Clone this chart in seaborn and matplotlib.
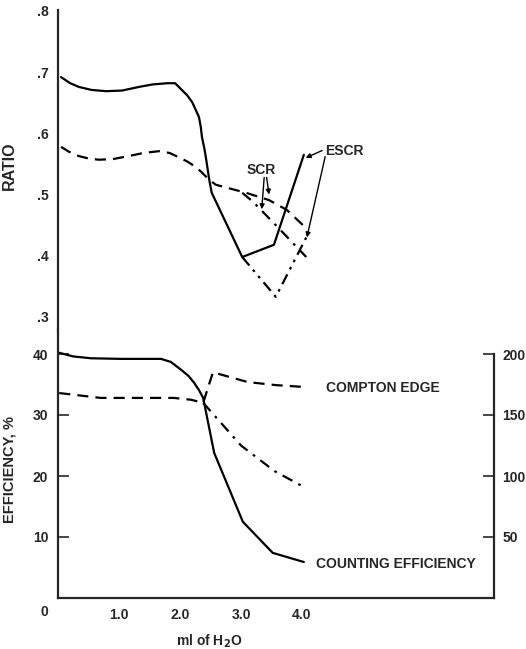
import matplotlib
matplotlib.use("Agg")
import matplotlib.pyplot as plt
import seaborn as sns
import pandas as pd

# --- upper panel: ratios vs. water volume ---
escr_x = [0.05, 0.20, 0.34, 0.55, 0.79, 1.05, 1.33, 1.55, 1.79, 1.92, 2.03, 2.12, 2.20, 2.26, 2.31,
          2.34, 2.36, 2.40, 2.43, 2.48, 2.52, 3.02, 3.54, 4.03]
escr_y = [0.692, 0.682, 0.676, 0.671, 0.669, 0.670, 0.676, 0.680, 0.682, 0.682, 0.671, 0.662, 0.651,
          0.638, 0.627, 0.611, 0.594, 0.575, 0.557, 0.524, 0.503, 0.398, 0.418, 0.565]

escr_alt_x = [3.02, 3.57, 4.07]
escr_alt_y = [0.398, 0.333, 0.430]

scr_x = [0.05, 0.18, 0.34, 0.50, 0.67, 0.90, 1.16, 1.40, 1.66, 1.83, 1.98, 2.12, 2.26, 2.35, 2.43,
         2.52, 2.59, 3.08, 3.46, 3.75, 4.07]
scr_y = [0.578, 0.570, 0.563, 0.559, 0.557, 0.558, 0.563, 0.568, 0.571, 0.568, 0.561, 0.554, 0.545,
         0.537, 0.529, 0.521, 0.516, 0.503, 0.491, 0.475, 0.445]

scr_alt_x = [3.02, 3.20, 3.60, 4.07]
scr_alt_y = [0.503, 0.488, 0.447, 0.398]

# --- lower panel: counting efficiency (%) and Compton edge (channel) ---
eff_x = [0.02, 0.25, 0.54, 1.03, 1.69, 1.85, 2.02, 2.14, 2.23, 2.31, 2.38, 2.56, 3.03, 3.52, 4.03]
eff_y = [40.2, 39.6, 39.3, 39.2, 39.2, 38.7, 37.4, 36.4, 35.3, 34.1, 32.8, 23.8, 12.5, 7.4, 5.9]

edge_x = [0.02, 0.70, 1.90, 2.18, 2.38, 2.54, 3.11, 3.57, 4.03]
edge_y = [168, 164, 164, 162.5, 160, 185, 177, 174.5, 173]

edge_alt_x = [2.38, 3.00, 3.55, 4.03]
edge_alt_y = [160, 125, 104, 91]

x_ticks = [1, 2, 3, 4]
x_tick_labels = ["1.0", "2.0", "3.0", "4.0"]
ratio_ticks = [0.3, 0.4, 0.5, 0.6, 0.7, 0.8]
ratio_tick_labels = [".3", ".4", ".5", ".6", ".7", ".8"]
eff_ticks = [10, 20, 30, 40]
edge_ticks = [50, 100, 150, 200]

sns.set_style("white")
plt.rcParams["font.family"] = ["Liberation Sans", "DejaVu Sans"]
plt.rcParams["font.weight"] = "bold"
plt.rcParams["axes.linewidth"] = 1.6

W, H = 526, 649
fig = plt.figure(figsize=(W / 100, H / 100), dpi=100)


def frac(left, top, right, bottom):
    return [left / W, 1 - bottom / H, (right - left) / W, (bottom - top) / H]


ax_top = fig.add_axes(frac(58, 10, 494, 331))
ax_bot = fig.add_axes(frac(58, 330, 494, 598))
ax_right = ax_bot.twinx()

XMAX = (494 - 58) / 61.0
lw = 1.6
dash = (0, (5, 3.2))
dashdot = (0, (5, 3, 1.2, 3))
dashdotdot = (0, (5, 2.5, 1.2, 2.5, 1.2, 2.5))


def draw(ax, x, y, ls):
    df = pd.DataFrame({"x": x, "y": y})
    sns.lineplot(data=df, x="x", y="y", ax=ax, color="black", lw=lw,
                 linestyle=ls, sort=False, estimator=None)


# upper panel
draw(ax_top, escr_x, escr_y, "-")
draw(ax_top, escr_alt_x, escr_alt_y, dashdotdot)
draw(ax_top, scr_x, scr_y, dash)
draw(ax_top, scr_alt_x, scr_alt_y, dashdot)

ax_top.set_xlim(0, XMAX)
ax_top.set_ylim(0.8 - 320 / 612, 0.8 + 1 / 612)
ax_top.set_yticks(ratio_ticks)
ax_top.set_yticklabels(ratio_tick_labels)
ax_top.set_xticks([])
for s in ["top", "right", "bottom"]:
    ax_top.spines[s].set_visible(False)
ax_top.spines["left"].set_capstyle("projecting")
ax_top.tick_params(axis="y", direction="in", length=8, width=1.2, pad=7, labelsize=10)
ax_top.set_xlabel("")
ax_top.set_ylabel("RATIO", fontsize=11.5, fontweight="bold")
ax_top.yaxis.set_label_coords(-0.095, 0.516)

arrow = dict(arrowstyle="-|>", color="black", lw=1.0, mutation_scale=7, shrinkA=0, shrinkB=0)
ax_top.text(3.33, 0.540, "SCR", ha="center", va="center", fontsize=10, fontweight="bold")
ax_top.annotate("", xy=(3.46, 0.500), xytext=(3.42, 0.528), arrowprops=arrow)
ax_top.annotate("", xy=(3.34, 0.476), xytext=(3.38, 0.528), arrowprops=arrow)
ax_top.text(4.38, 0.571, "ESCR", ha="left", va="center", fontsize=10, fontweight="bold")
ax_top.annotate("", xy=(4.06, 0.560), xytext=(4.33, 0.572), arrowprops=arrow)
ax_top.annotate("", xy=(4.08, 0.430), xytext=(4.38, 0.562), arrowprops=arrow)

# lower panel
draw(ax_bot, eff_x, eff_y, "-")
draw(ax_right, edge_x, edge_y, dash)
draw(ax_right, edge_alt_x, edge_alt_y, dashdot)

ymax = (598 - 330) / 6.1
ax_bot.set_xlim(0, XMAX)
ax_bot.set_ylim(0, ymax)
ax_right.set_ylim(0, ymax * 5)
ax_bot.set_xticks(x_ticks)
ax_bot.set_xticklabels(x_tick_labels)
ax_bot.set_yticks(eff_ticks)
ax_right.set_yticks(edge_ticks)
ax_bot.spines["top"].set_visible(False)
ax_bot.spines["right"].set_visible(False)
ax_bot.spines["left"].set_capstyle("projecting")
for s in ["top", "left", "bottom"]:
    ax_right.spines[s].set_visible(False)
ax_right.spines["right"].set_bounds(0, 200)
ax_right.spines["right"].set_visible(True)
ax_bot.tick_params(axis="both", direction="in", length=8, width=1.2, labelsize=10)
ax_bot.tick_params(axis="y", pad=7)
ax_bot.tick_params(axis="x", pad=7)
ax_right.tick_params(axis="y", direction="in", length=8, width=1.2, pad=6, labelsize=10)
ax_right.set_ylabel("")

ax_bot.set_ylabel("EFFICIENCY, %", fontsize=10.5, fontweight="bold")
ax_bot.yaxis.set_label_coords(-0.095, 0.478)
ax_bot.set_xlabel("ml of H$_2$O", fontsize=10, fontweight="bold")
ax_bot.xaxis.set_label_coords(0.348, -0.13)
ax_bot.annotate("0", xy=(0, 0), xytext=(-10, -10), textcoords="offset points",
                ha="center", va="center", fontsize=10, fontweight="bold")

ax_bot.text(4.39, 34.4, "COMPTON EDGE", ha="left", va="center", fontsize=10, fontweight="bold")
ax_bot.text(4.23, 5.6, "COUNTING EFFICIENCY", ha="left", va="center", fontsize=10, fontweight="bold")

fig.savefig("out.png", dpi=100)
